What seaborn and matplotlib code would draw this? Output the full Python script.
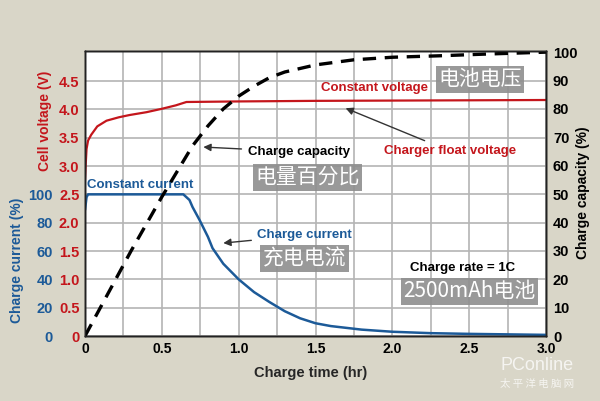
import numpy as np
import pandas as pd
import matplotlib
matplotlib.use('Agg')
import matplotlib.pyplot as plt
from matplotlib.ticker import MultipleLocator
import seaborn as sns

# ── Data ──
volt_t = [0.0, 0.005, 0.01, 0.02, 0.04, 0.08, 0.14, 0.22, 0.29, 0.40, 0.50, 0.59, 0.66,
          1.0, 1.5, 2.0, 2.5, 3.0]
volt_v = [2.75, 3.05, 3.30, 3.45, 3.55, 3.70, 3.80, 3.86, 3.90, 3.95, 4.01, 4.07, 4.13,
          4.14, 4.15, 4.155, 4.16, 4.165]

curr_t = [0.0, 0.01, 0.02, 0.30, 0.64, 0.68, 0.70, 0.745, 0.80, 0.83, 0.90, 1.00,
          1.10, 1.20, 1.30, 1.40, 1.50, 1.60, 1.80, 2.00, 2.25, 2.50, 3.00]
curr_p = [89, 98, 100, 100, 100, 96, 91, 82, 70, 62, 51, 40,
          31, 24, 17.5, 12.5, 9, 7, 4.5, 3, 2, 1.5, 0.8]

cap_t = [0.0, 0.1, 0.2, 0.3, 0.4, 0.5, 0.6, 0.7, 0.8, 0.9, 1.0, 1.1, 1.2, 1.3,
         1.5, 1.75, 2.0, 2.3, 2.6, 3.0]
cap_p = [0, 10, 20, 30, 39.5, 49, 58, 67, 74, 80, 84.5, 88, 91, 93,
         95.5, 97.3, 98.2, 98.7, 99.3, 100]

volt_ticks = [0, 0.5, 1.0, 1.5, 2.0, 2.5, 3.0, 3.5, 4.0, 4.5]
volt_labels = ['0', '0.5', '1.0', '1.5', '2.0', '2.5', '3.0', '3.5', '4.0', '4.5']
curr_ticks = [0, 20, 40, 60, 80, 100]
cap_ticks = [0, 10, 20, 30, 40, 50, 60, 70, 80, 90, 100]
time_ticks = [0, 0.5, 1.0, 1.5, 2.0, 2.5, 3.0]
time_labels = ['0', '0.5', '1.0', '1.5', '2.0', '2.5', '3.0']

# ── Style ──
RED = '#c4161c'
BLUE = '#1c5a98'
BG = '#d9d6c8'
GRID = '#b4b4b4'
BOX = '#8e8e8e'

sns.set_theme(style='white')
plt.rcParams['font.family'] = ['Liberation Sans', 'Noto Sans CJK SC', 'DejaVu Sans']
CJK = ['Noto Sans CJK SC', 'DejaVu Sans']

fig = plt.figure(figsize=(6.0, 4.01), dpi=100, facecolor=BG)
ax = fig.add_axes([85 / 600, 1 - 336 / 401, 461 / 600, 285 / 401])
ax.set_facecolor('white')

df_v = pd.DataFrame({'t': volt_t, 'v': volt_v})
df_c = pd.DataFrame({'t': curr_t, 'p': curr_p})
df_q = pd.DataFrame({'t': cap_t, 'p': cap_p})

# voltage axis (left, inner)
ax.set_xlim(0, 3.0)
ax.set_ylim(0, 5.03)
ax.xaxis.set_minor_locator(MultipleLocator(0.25))
ax.set_xticks(time_ticks)
ax.set_xticklabels(time_labels)
ax.set_yticks(volt_ticks)
ax.set_yticklabels(volt_labels)
ax.grid(True, which='both', axis='x', color=GRID, lw=1.2)
ax.grid(True, which='major', axis='y', color=GRID, lw=1.2)
ax.set_axisbelow(True)
ax.tick_params(axis='both', which='both', length=0)
ax.tick_params(axis='y', colors=RED, pad=4, labelsize=10.5)
ax.tick_params(axis='x', colors='black', pad=4, labelsize=10)
for lab in ax.get_yticklabels() + ax.get_xticklabels():
    lab.set_fontweight('bold')

# current axis (left, outer)
ax_c = ax.twinx()
ax_c.yaxis.tick_left()
ax_c.set_ylim(0, 201.2)
ax_c.set_yticks(curr_ticks)
ax_c.set_yticklabels([str(v) for v in curr_ticks])
ax_c.tick_params(axis='y', length=0, colors=BLUE, pad=23, labelsize=10.5)
for lab in ax_c.get_yticklabels():
    lab.set_fontweight('bold')

# capacity axis (right)
ax_q = ax.twinx()
ax_q.set_ylim(0, 100.4)
ax_q.set_yticks(cap_ticks)
ax_q.set_yticklabels([str(v) for v in cap_ticks])
ax_q.tick_params(axis='y', length=0, colors='black', pad=5, labelsize=10.5)
for lab in ax_q.get_yticklabels():
    lab.set_fontweight('bold')

for a in (ax, ax_c, ax_q):
    for s in a.spines.values():
        s.set_color('#222222')
        s.set_linewidth(1.0)

sns.lineplot(data=df_v, x='t', y='v', ax=ax, color=RED, lw=1.6)
sns.lineplot(data=df_c, x='t', y='p', ax=ax_c, color=BLUE, lw=1.8)
sns.lineplot(data=df_q, x='t', y='p', ax=ax_q, color='black', lw=2.4,
             dashes=False, linestyle=(0, (4, 2.6)))
for a in (ax, ax_c, ax_q):
    a.set_xlabel('')
    a.set_ylabel('')
ax.set_xlim(0, 3.0)

# ── Axis labels ──
fig.text(311 / 600, 1 - 373 / 401, 'Charge time (hr)',
         ha='center', va='center', fontsize=10.5, fontweight='bold')
fig.text(45 / 600, 1 - 121 / 401, 'Cell voltage (V)', rotation=90, ha='center',
         va='center', fontsize=10, fontweight='bold', color=RED)
fig.text(17 / 600, 1 - 260 / 401, 'Charge current (%)', rotation=90, ha='center',
         va='center', fontsize=10, fontweight='bold', color=BLUE)
fig.text(583 / 600, 1 - 193 / 401, 'Charge capacity (%)', rotation=90, ha='center',
         va='center', fontsize=10, fontweight='bold', color='black')

# ── Annotations ──
arrow = dict(arrowstyle='-|>', color='#333333', lw=1.0, mutation_scale=11,
             shrinkA=2, shrinkB=0)
ax.text(0.013, 2.66, 'Constant current', color=BLUE, fontsize=9.5,
        fontweight='bold', ha='left', va='center')
ax.text(1.885, 4.38, 'Constant voltage', color=RED, fontsize=9.5,
        fontweight='bold', ha='center', va='center')
ax.annotate('Charge capacity', xy=(0.77, 3.335), xytext=(1.39, 3.25),
            color='black', fontsize=9.5, fontweight='bold', ha='center',
            va='center', arrowprops=arrow)
ax.annotate('Charger float voltage', xy=(1.696, 4.02), xytext=(2.374, 3.265),
            color=RED, fontsize=9.5, fontweight='bold', ha='center',
            va='center', arrowprops=arrow)
ax.annotate('Charge current', xy=(0.90, 1.64), xytext=(1.43, 1.78),
            color=BLUE, fontsize=9.5, fontweight='bold', ha='center',
            va='center', arrowprops=arrow)
ax.text(2.46, 1.2, 'Charge rate = 1C', color='black', fontsize=9.5,
        fontweight='bold', ha='center', va='center')

box = dict(boxstyle='square,pad=0.12', fc=BOX, ec='none', alpha=0.9)
for tx, ty, s in [(2.57, 4.535, '电池电压'), (1.448, 2.806, '电量百分比'),
                  (1.43, 1.376, '充电电流'), (2.50, 0.794, '2500mAh电池')]:
    ax.text(tx, ty, s, color='white', fontsize=15, family=CJK, ha='center',
            va='center', bbox=box)

# watermark
fig.text(537 / 600, 1 - 365 / 401, 'PConline', color='white', alpha=0.75,
         fontsize=13, ha='center', va='center')
fig.text(537 / 600, 1 - 384 / 401, '太 平 洋 电 脑 网', color='white', alpha=0.75,
         fontsize=7.5, family=CJK, ha='center', va='center')

fig.savefig('out.png', dpi=100, facecolor=BG)
